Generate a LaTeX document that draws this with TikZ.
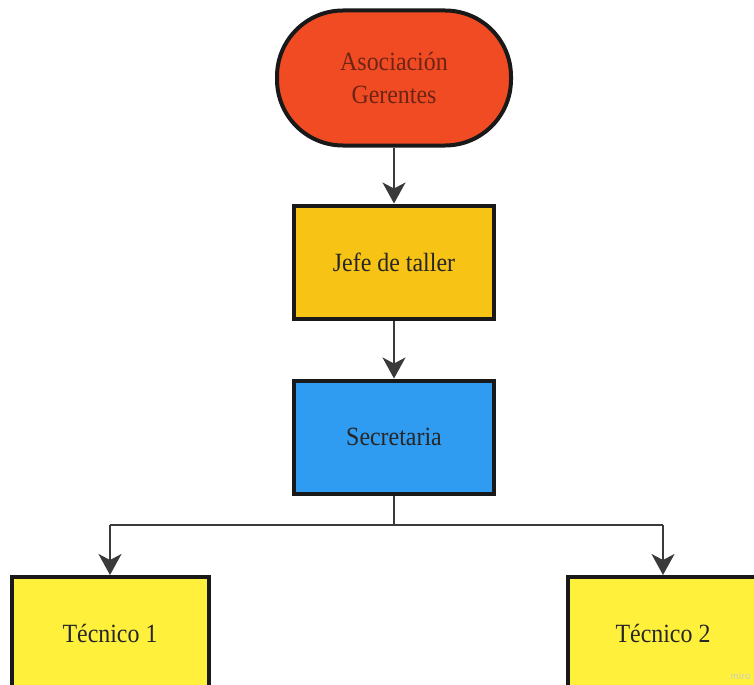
\documentclass[tikz,border=0pt]{standalone}
\usepackage{fontspec}
\usepackage{graphicx}
\setmainfont{Liberation Serif}
\usetikzlibrary{arrows.meta}
\definecolor{assoc}{HTML}{F04B23}
\definecolor{assoctext}{HTML}{6E2415}
\definecolor{jefe}{HTML}{F7C315}
\definecolor{secre}{HTML}{2F9BF1}
\definecolor{tecn}{HTML}{FFF03C}
\definecolor{conn}{HTML}{3A3A3A}
\newcommand\tallt[1]{\scalebox{1}[1.1]{#1}}
\tikzset{
  box/.style={draw=black!90, line width=4bp, minimum width=200bp, minimum height=113bp, inner sep=0pt, font=\fontsize{24}{29}\selectfont, text=black!85},
  lbl/.style={font=\fontsize{24}{29}\selectfont, text=black!85},
  link/.style={draw=conn, line width=2bp},
  tip/.style={-{Stealth[length=21bp, width=23bp, inset=6bp]}}
}
\begin{document}
\begin{tikzpicture}[x=1bp, y=-1bp]
\useasboundingbox (0,0) rectangle (754,685);
\clip (0,0) rectangle (754,685);
\node[box, fill=assoc, rounded corners=66bp, minimum width=234bp, minimum height=135bp, text=assoctext, align=center] (assoc) at (394,78) {\tallt{Asociación}\\[4bp]\tallt{Gerentes}};
\node[box, fill=jefe] (jefe) at (394,262) {\tallt{Jefe de taller}};
\node[box, fill=secre] (secre) at (394,437) {\tallt{Secretaria}};
\node[box, fill=tecn, minimum width=197bp, minimum height=150bp, anchor=north west] (t1) at (10,575) {};
\node[lbl] (t1l) at (110,633) {\tallt{Técnico 1}};
\node[box, fill=tecn, minimum width=240bp, minimum height=150bp, anchor=north west] (t2) at (566,575) {};
\node[lbl] (t2l) at (663,633) {\tallt{Técnico 2}};
\node[text=black!20, font=\sffamily\fontsize{11}{13}\selectfont, anchor=south east] (miro) at (754,683) {miro};
\coordinate (split) at (394,525);
\coordinate (lft) at (110,525);
\coordinate (rgt) at (663,525);
\draw[link, tip] (assoc.south) -- (jefe.north);
\draw[link, tip] (jefe.south) -- (secre.north);
\draw[link] (secre.south) -- (split);
\draw[link] (lft) -- (rgt);
\draw[link, tip] (lft) -- (lft |- t1.north);
\draw[link, tip] (rgt) -- (rgt |- t2.north);
\end{tikzpicture}
\end{document}
